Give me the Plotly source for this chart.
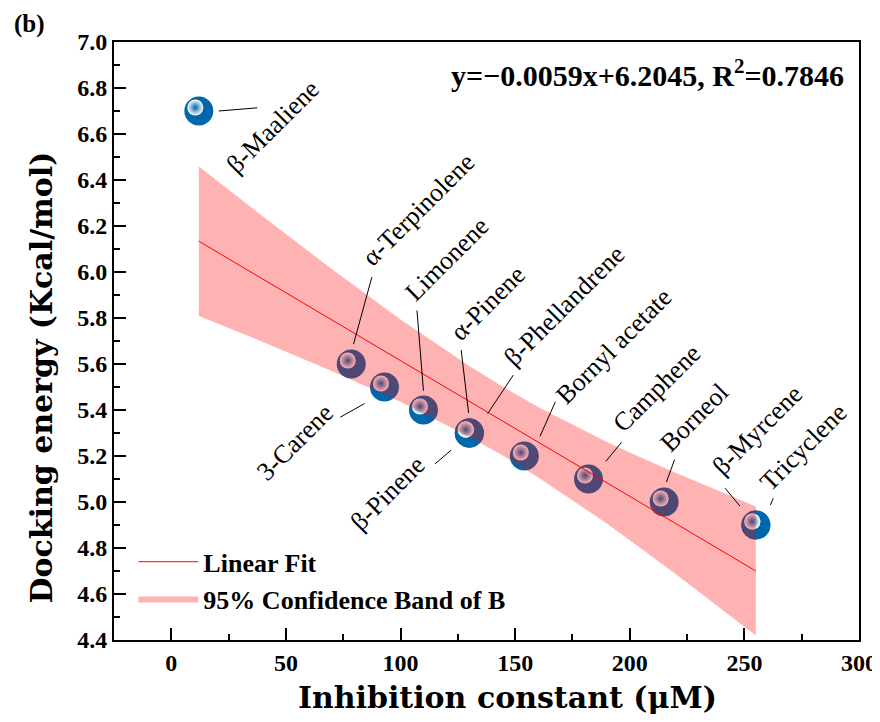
import plotly.graph_objects as go

# ---- data ----
compounds = ["β-Maaliene", "α-Terpinolene", "3-Carene", "Limonene", "α-Pinene",
             "β-Pinene", "β-Phellandrene", "Bornyl acetate", "Camphene",
             "Borneol", "β-Myrcene", "Tricyclene"]
inhibition = [12, 78.5, 93, 110, 130, 130, 130, 154, 182, 215, 255, 255]
docking = [6.7, 5.6, 5.5, 5.4, 5.3, 5.3, 5.3, 5.2, 5.1, 5.0, 4.9, 4.9]

fit_x = [12, 255]
fit_y = [6.134, 4.700]

band_x = [12, 40, 70, 100, 130, 145, 160, 190, 200, 220, 255]
band_upper = [6.459, 6.241, 6.013, 5.793, 5.591, 5.499, 5.413, 5.261, 5.215, 5.127, 4.980]
band_lower = [5.809, 5.696, 5.570, 5.436, 5.284, 5.200, 5.108, 4.906, 4.834, 4.687, 4.420]

x_ticks = [0, 50, 100, 150, 200, 250, 300]
y_ticks = [4.4, 4.6, 4.8, 5.0, 5.2, 5.4, 5.6, 5.8, 6.0, 6.2, 6.4, 6.6, 6.8, 7.0]

equation_text = "y=−0.0059x+6.2045, R<sup>2</sup>=0.7846"
x_title = "Inhibition constant (μM)"
y_title = "Docking energy (Kcal/mol)"

# ---- label placement (pixel offsets from each point: label centre, leader near end, leader far end) ----
label_offsets = [(74, 15), (67, -155), (-90, 55), (23, -151), (18, -130), (-82, 60),
                 (95, -128), (89, -110), (68, -91), (30, -85), (1, -95), (47, -78)]
leader_near = [(20, 0), (2.3, -20), (-20, 16.6), (0, -19.3), (-0.7, -20), (-18.3, 17.3),
               (18.3, -19.4), (15.7, -19.7), (17.3, -17.6), (2.3, -20), (-16, -19), (14.6, -20)]
leader_far = [(60, -3.3), (21, -88.3), (-45.7, 31), (-6.6, -101), (-8.3, -84.4), (-36, 32.3),
              (45, -59.4), (31.7, -55.7), (34.3, -38.3), (11, -44), (-32, -38.3), (18, -28.3)]

SERIF = "Liberation Serif"
TITLE_SERIF = "DejaVu Serif"
BLUE = "rgb(0,104,170)"
X_RANGE = [-25, 300]
Y_RANGE = [4.4, 7.0]
HL_DX = 1.53     # highlight shift, in x units (~3.5 px)
HL_DY = 0.0152   # highlight shift, in y units (~3.5 px)
NBSP = "&nbsp;"

fig = go.Figure()

# spheres
fig.add_trace(go.Scatter(
    x=inhibition, y=docking, mode="markers", showlegend=False, hoverinfo="skip",
    marker=dict(size=29, color=BLUE, line=dict(width=0)),
    xaxis="x", yaxis="y"))

# specular highlights (shifted axes)
fig.add_trace(go.Scatter(
    x=inhibition, y=docking, mode="markers", showlegend=False, hoverinfo="skip",
    marker=dict(size=16, color="white", line=dict(width=0),
                gradient=dict(type="radial", color=BLUE)),
    xaxis="x2", yaxis="y2"))

# confidence band and fit line (drawn above the spheres)
fig.add_trace(go.Scatter(
    x=band_x, y=band_lower, mode="lines", line=dict(width=0, color="rgba(0,0,0,0)"),
    showlegend=False, hoverinfo="skip", xaxis="x3", yaxis="y3"))
fig.add_trace(go.Scatter(
    x=band_x, y=band_upper, mode="lines", line=dict(width=0, color="rgba(0,0,0,0)"),
    fill="tonexty", fillcolor="rgba(255,0,0,0.3)", name="95% Confidence Band of B",
    legendrank=2, hoverinfo="skip", xaxis="x3", yaxis="y3"))
fig.add_trace(go.Scatter(
    x=fit_x, y=fit_y, mode="lines", line=dict(color="red", width=1),
    name="Linear Fit", legendrank=1, xaxis="x3", yaxis="y3"))

annotations = []
for i, name in enumerate(compounds):
    lx, ly = label_offsets[i]
    annotations.append(dict(
        x=inhibition[i], y=docking[i], xref="x", yref="y", text=name,
        showarrow=False, textangle=-45, xanchor="center", yanchor="middle",
        xshift=lx, yshift=-ly, font=dict(family=SERIF, size=26, color="black")))
    nx, ny = leader_near[i]
    fx, fy = leader_far[i]
    annotations.append(dict(
        x=inhibition[i], y=docking[i], xref="x", yref="y", text="",
        showarrow=True, arrowhead=0, arrowwidth=1, arrowcolor="black",
        ax=fx - nx, ay=fy - ny, axref="pixel", ayref="pixel", standoff=0,
        xshift=nx, yshift=-ny))

annotations.append(dict(
    x=0.716, y=0.948, xref="paper", yref="paper", text=equation_text,
    showarrow=False, xanchor="center", yanchor="middle",
    font=dict(family=SERIF, size=30, color="black", weight="bold")))
annotations.append(dict(
    x=-0.113, y=1.030, xref="paper", yref="paper", text="(b)",
    showarrow=False, xanchor="center", yanchor="middle",
    font=dict(family=SERIF, size=25, color="black", weight="bold")))

axis_common = dict(showgrid=False, zeroline=False, showline=True, linecolor="black",
                   linewidth=2, mirror=True, ticks="inside", tickwidth=2, ticklen=12,
                   tickcolor="black", automargin=False,
                   tickfont=dict(family=SERIF, size=24, color="black", weight="bold"))

# page body adds an 8px offset, so the figure is 872x714 with margins compensated
fig.update_layout(
    width=872, height=714, autosize=False,
    margin=dict(l=106, r=21, t=34, b=82),
    paper_bgcolor="white", plot_bgcolor="white",
    xaxis=dict(range=X_RANGE, tickvals=x_ticks, **axis_common,
               minor=dict(ticks="inside", ticklen=6, tickwidth=2, dtick=25, tickcolor="black"),
               title=dict(text=NBSP * 4 + x_title, standoff=12,
                          font=dict(family=TITLE_SERIF, size=30, color="black", weight="bold"))),
    yaxis=dict(range=Y_RANGE, tickvals=y_ticks, tickformat=".1f", **axis_common,
               minor=dict(ticks="inside", ticklen=6, tickwidth=2, dtick=0.1, tickcolor="black"),
               title=dict(text=y_title + NBSP * 7, standoff=16,
                          font=dict(family=TITLE_SERIF, size=30, color="black", weight="bold"))),
    xaxis2=dict(range=[X_RANGE[0] + HL_DX, X_RANGE[1] + HL_DX], overlaying="x",
                anchor="y2", visible=False),
    yaxis2=dict(range=[Y_RANGE[0] - HL_DY, Y_RANGE[1] - HL_DY], overlaying="y",
                anchor="x2", visible=False),
    xaxis3=dict(range=X_RANGE, overlaying="x", anchor="y3", visible=False),
    yaxis3=dict(range=Y_RANGE, overlaying="y", anchor="x3", visible=False),
    legend=dict(x=0.026, y=0.17, xanchor="left", yanchor="top", traceorder="normal",
                bgcolor="rgba(0,0,0,0)", itemwidth=60, tracegroupgap=0,
                font=dict(family=SERIF, size=26, color="black", weight="bold")),
    annotations=annotations,
)

fig.write_html("out.html")
